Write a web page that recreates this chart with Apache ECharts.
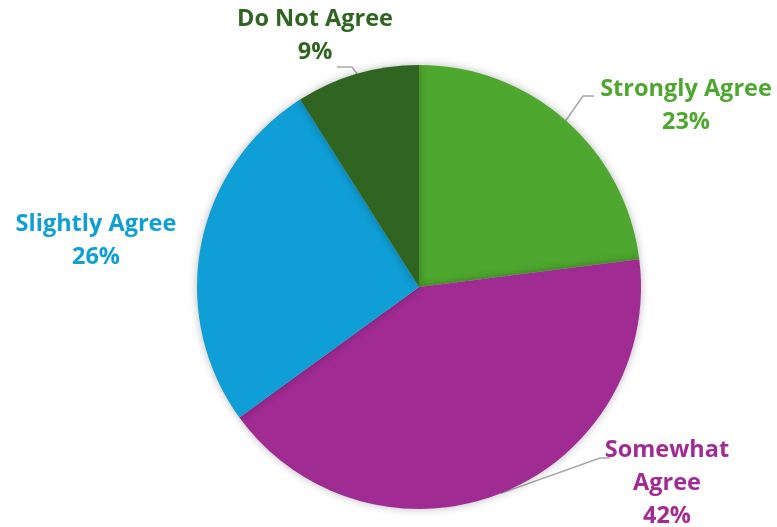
<!DOCTYPE html>
<html><head><meta charset="utf-8">
<script src="https://cdn.jsdelivr.net/npm/echarts@6/dist/echarts.min.js"></script>
<style>html,body{margin:0;padding:0;background:#fff}#c{width:777px;height:527px}</style>
</head><body><div id="c"></div>
<script>
const categories = ['Strongly Agree', 'Somewhat Agree', 'Slightly Agree', 'Do Not Agree'];
const values = [23, 42, 26, 9];
const displayNames = ['Strongly Agree', 'Somewhat\nAgree', 'Slightly Agree', 'Do Not Agree'];
const colors = ['#4EA72E', '#A02B93', '#0F9ED5', '#2F6520'];
const labelPos = [[686, 106], [667, 483], [96, 241], [315, 36]];
const showLine = [true, true, false, true];
const lineElbow = [[[583, 96], [594, 96]], [[600, 458], [610, 458]], null, [[352, 67], [337, 67]]];

const chart = echarts.init(document.getElementById('c'), null, {renderer: 'canvas'});
chart.setOption({
  animation: false,
  series: [{
    type: 'pie',
    center: [419, 287],
    radius: 222,
    startAngle: 90,
    clockwise: true,
    data: categories.map((n, i) => ({
      name: n, value: values[i],
      itemStyle: {color: colors[i]},
      label: {color: colors[i]},
      labelLine: {show: showLine[i]}
    })),
    itemStyle: {borderWidth: 0, shadowBlur: 8, shadowColor: 'rgba(0,0,0,0.28)', shadowOffsetX: 0, shadowOffsetY: 0},
    label: {
      show: true,
      fontFamily: 'Open Sans',
      fontWeight: 'bold',
      fontSize: 23.5,
      lineHeight: 33,
      align: 'center',
      formatter: p => displayNames[p.dataIndex] + '\n' + Math.round(p.percent) + '%'
    },
    labelLine: {show: true, lineStyle: {color: '#a6a6a6', width: 1.5}, length: 10, length2: 8},
    labelLayout: function (p) {
      const pos = labelPos[p.dataIndex];
      const out = {x: pos[0], y: pos[1], align: 'center', verticalAlign: 'middle'};
      const elbow = lineElbow[p.dataIndex];
      if (elbow && p.labelLinePoints) {
        out.labelLinePoints = [p.labelLinePoints[0], elbow[0], elbow[1]];
      }
      return out;
    }
  }]
});
</script></body></html>
